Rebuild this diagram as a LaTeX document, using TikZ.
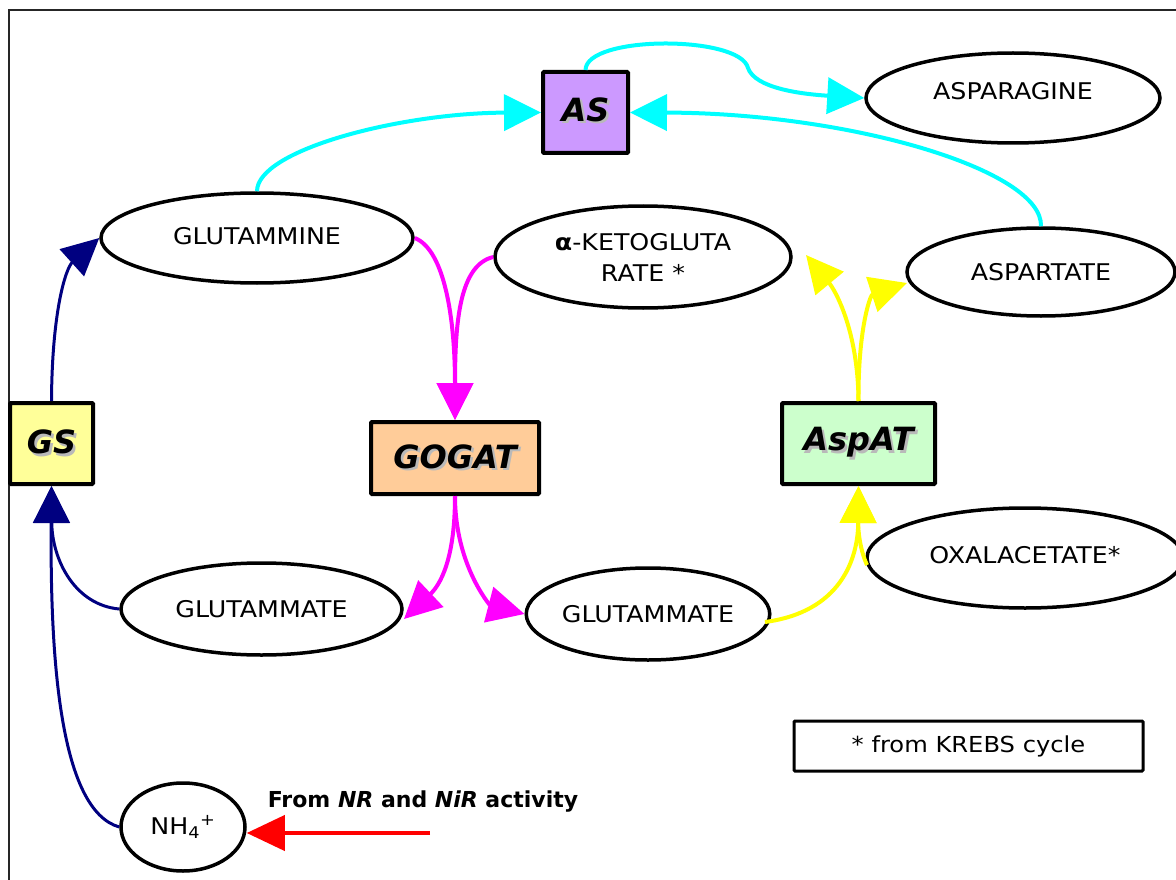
\documentclass[tikz,border=0pt]{standalone}
\usepackage{fontspec}
\setmainfont{DejaVu Sans}
\newfontfamily\widefont[FakeStretch=1.1]{DejaVu Sans}
\usetikzlibrary{arrows.meta,shapes.geometric}
\newcommand\shad[1]{\makebox[0pt][l]{\hspace{2.5pt}\raisebox{-2.5pt}{\textcolor{gray!55}{#1}}}#1}
\definecolor{aspur}{HTML}{CC99FF}
\definecolor{gsyel}{HTML}{FFFF99}
\definecolor{goor}{HTML}{FFCC99}
\definecolor{aspgr}{HTML}{CCFFCC}
\definecolor{navyc}{HTML}{000080}
\definecolor{cyanc}{HTML}{00FFFF}
\definecolor{magc}{HTML}{FF00FF}
\definecolor{yelc}{HTML}{FFFF00}
\definecolor{redc}{HTML}{FF0000}
\tikzset{
  ell/.style={ellipse,draw=black,line width=3.5pt,fill=white,inner sep=0pt,font=\widefont\fontsize{23}{28}\selectfont},
  enz/.style={rectangle,draw=black,line width=4pt,rounded corners=1pt,inner sep=0pt,font=\fontsize{32}{38}\selectfont\bfseries\itshape},
  tri/.style={-{Triangle[length=37pt,width=36pt]}},
  cy/.style={draw=cyanc,line width=4pt,tri},
  mg/.style={draw=magc,line width=4pt,tri},
  yl/.style={draw=yelc,line width=4pt,tri},
  nv/.style={draw=navyc,line width=3pt,tri},
}
\begin{document}
\begin{tikzpicture}[x=1pt,y=-1pt]
\useasboundingbox (0,0) rectangle (1176,880);
\draw[line width=1.5pt,black!85] (9,880) -- (9,10) -- (1176,10);

% enzymes
\node[enz,fill=aspur,minimum width=85pt,minimum height=81pt] (as) at (585.5,112.5) {\raisebox{6pt}{\shad{AS}}};
\node[enz,fill=gsyel,minimum width=83pt,minimum height=81pt] (gs) at (51.5,443.5) {\raisebox{3pt}{\shad{GS}}};
\node[enz,fill=goor,minimum width=168pt,minimum height=72pt] (gogat) at (455,458) {\shad{GOGAT}};
\node[enz,fill=aspgr,minimum width=153pt,minimum height=81pt] (aspat) at (858.5,443.5) {\raisebox{3pt}{\shad{AspAT}}};

% metabolites
\node[ell,minimum width=294pt,minimum height=90pt] (asn) at (1013,98) {\raisebox{15pt}{ASPARAGINE}};
\node[ell,minimum width=312pt,minimum height=90pt] (gln) at (257,238) {\raisebox{4pt}{GLUTAMMINE}};
\node[ell,minimum width=296pt,minimum height=102pt,align=center] (akg) at (643,257) {\textbf{α}-KETOGLUTA\\[3pt]RATE *};
\node[ell,minimum width=268pt,minimum height=88pt] (asp) at (1041,272) {ASPARTATE};
\node[ell,minimum width=281pt,minimum height=92pt] (glu1) at (261.5,609) {GLUTAMMATE};
\node[ell,minimum width=234pt,minimum height=92pt] (glu2) at (648,614) {GLUTAMMATE};
\node[ell,minimum width=316pt,minimum height=100pt] (oaa) at (1025,558) {\raisebox{6pt}{OXALACETATE*}};
\node[ell,minimum width=124pt,minimum height=88pt] (nh4) at (183,827) {NH\textsubscript{4}\textsuperscript{+}};
\node[rectangle,draw=black,line width=3pt,rounded corners=1pt,minimum width=349pt,minimum height=50pt,inner sep=0pt,font=\widefont\fontsize{22}{26}\selectfont] (leg) at (968.5,746) {* from KREBS cycle};
\node[font=\fontsize{22}{26}\selectfont\bfseries,anchor=center] (src) at (423,802) {From \textit{NR} and \textit{NiR} activity};
\coordinate (srcend) at (430,833);

% cyan
\draw[cy] (gln.north) .. controls (257,150) and (400,113) .. (as.west);
\draw[cy] (asp.north) .. controls (1043,170) and (850,113) .. (as.east);
\draw[cy] (as.north) .. controls (586,35) and (740,35) .. (748,68) .. controls (755,88) and (800,94) .. (asn.west);

% navy
\draw[nv] (gs.north) .. controls (52,310) and (66,268) .. (gln.west);
\draw[nv] (glu1.west) .. controls (75,605) and (52,560) .. (gs.south);
\draw[nv] (nh4.west) .. controls (60,810) and (50,660) .. (gs.south);

% magenta
\draw[mg] (gln.east) .. controls (445,250) and (455,320) .. (gogat.north);
\draw[mg] (akg.west) .. controls (460,265) and (455,320) .. (gogat.north);
\draw[mg] (gogat.south) .. controls (455,560) and (440,585) .. (404,619);
\draw[mg] (gogat.south) .. controls (455,565) and (490,605) .. (glu2.west);

% yellow
\draw[yl] (aspat.north) .. controls (858,330) and (835,290) .. (806,255);
\draw[yl] (aspat.north) .. controls (858,330) and (870,295) .. (907,283);
\draw[yl] (765,622) .. controls (840,612) and (858,560) .. (aspat.south);
\draw[yl] (867,565) .. controls (860,550) and (858,530) .. (aspat.south);

% red
\draw[draw=redc,line width=4pt,-{Triangle[length=38pt,width=35pt]}] (srcend) -- (srcend -| nh4.east);
\end{tikzpicture}
\end{document}
